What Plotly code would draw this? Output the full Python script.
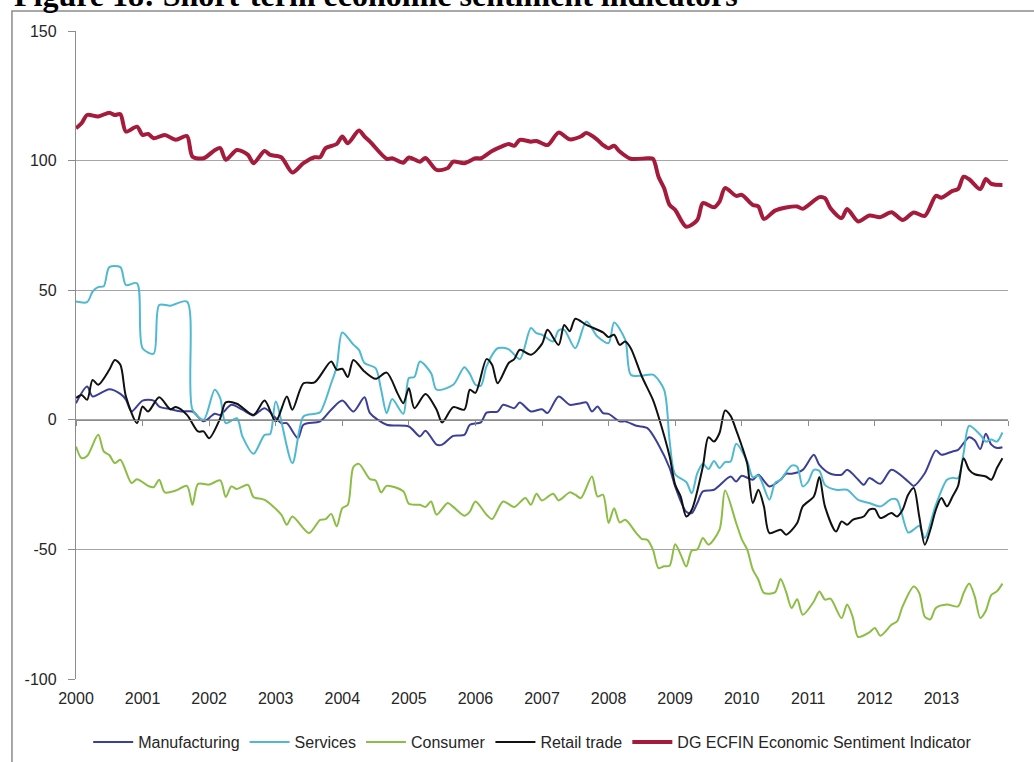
import plotly.graph_objects as go

# months since Jan 2000 and readings for each indicator
esi_m = [0, 1, 2, 4, 6, 7, 8, 9, 11, 12, 13, 14, 16, 18, 20, 21, 23, 25, 26, 27, 29, 31, 32, 34, 35, 37, 39, 41,
         43, 44, 45, 47, 48, 49, 51, 52, 53, 56, 57, 59, 60, 62, 63, 65, 67, 68, 70, 72, 73, 75, 77, 78, 79, 80,
         82, 83, 85, 87, 89, 91, 92, 94, 95, 96, 97, 98, 100, 103, 104, 105, 106, 107, 108, 110, 112, 113, 115,
         116, 117, 119, 120, 122, 123, 124, 126, 128, 130, 131, 134, 135, 136, 138, 139, 141, 143, 145, 147, 149,
         151, 153, 155, 156, 158, 159, 160, 161, 163, 164, 165, 167]
esi = [112.5, 114.4, 117.6, 117.0, 118.5, 117.6, 117.9, 111.2, 113.1, 109.9, 110.3, 108.6, 109.9, 108.0, 109.5,
       101.5, 100.9, 104.0, 104.8, 100.3, 104.1, 102.2, 99.0, 103.7, 102.2, 101.3, 95.4, 99.0, 101.3, 101.3, 104.8,
       106.4, 109.3, 106.7, 111.6, 109.3, 107.3, 100.7, 100.9, 99.2, 101.2, 99.6, 101.0, 96.4, 97.1, 99.6, 99.0,
       100.9, 100.9, 103.7, 105.7, 106.4, 105.7, 108.0, 107.3, 107.6, 106.0, 110.8, 108.2, 109.3, 110.6, 108.0,
       106.0, 104.8, 105.7, 103.5, 100.7, 100.9, 100.7, 93.8, 89.4, 82.9, 81.0, 74.5, 77.1, 83.6, 82.0, 84.2, 89.4,
       86.4, 86.8, 82.9, 82.3, 77.5, 80.7, 81.9, 82.3, 81.4, 85.9, 85.5, 81.6, 77.8, 81.3, 76.5, 78.8, 78.2, 80.1,
       77.1, 80.0, 78.7, 86.4, 85.7, 88.3, 89.0, 93.8, 92.8, 89.0, 92.9, 91.0, 90.6]

services_m = [0, 2, 3, 4, 5, 6, 8, 9, 11, 12, 14, 15, 17, 20, 21, 23, 25, 26, 27, 29, 30, 32, 34, 35, 36, 39, 41,
              43, 44, 46, 47, 48, 50, 51, 52, 54, 55, 56, 57, 59, 60, 61, 62, 64, 65, 68, 70, 71, 72, 73, 74, 76,
              78, 80, 82, 83, 84, 86, 87, 88, 90, 92, 94, 96, 97, 99, 100, 102, 104, 106, 107, 108, 110, 111, 112,
              113, 114, 115, 116, 117, 118, 119, 121, 122, 123, 125, 126, 127, 129, 130, 131, 132, 133, 134, 135,
              137, 139, 141, 143, 145, 147, 148, 150, 151, 152, 153, 155, 157, 158, 159, 160, 161, 163, 164, 165,
              166, 167]
services = [45.6, 45.4, 49.5, 51.2, 51.5, 58.9, 58.9, 52.0, 52.7, 27.6, 25.5, 44.3, 44.0, 45.6, 3.9, 0.0, 11.6,
            8.4, -1.3, 0.6, -6.4, -13.1, -5.8, -5.5, 7.1, -16.7, 1.3, 2.3, 2.9, 14.1, 20.6, 33.7, 29.0, 27.0, 21.9,
            19.9, 11.6, 2.6, 8.0, 2.3, 16.1, 16.5, 22.5, 18.0, 11.6, 13.5, 20.3, 17.7, 13.5, 13.2, 20.6, 27.6, 27.2,
            23.4, 35.4, 33.4, 32.8, 30.2, 34.5, 34.7, 27.6, 37.9, 32.1, 29.6, 37.5, 30.9, 17.4, 17.0, 17.4, 11.6,
            -8.0, -21.0, -24.0, -28.3, -20.6, -17.0, -19.0, -15.9, -18.6, -16.3, -16.1, -9.2, -16.1, -22.2, -21.5,
            -30.8, -24.4, -23.1, -17.7, -18.1, -25.7, -23.8, -19.3, -19.7, -25.1, -27.0, -27.0, -30.9, -32.1, -33.4,
            -30.6, -30.9, -43.5, -42.4, -40.9, -45.6, -32.8, -23.1, -22.4, -22.5, -12.8, -2.3, -5.8, -8.4, -7.6,
            -8.4, -4.9]

manufacturing_m = [0, 2, 3, 6, 8, 9, 10, 12, 14, 15, 17, 19, 21, 23, 25, 26, 28, 30, 32, 34, 37, 38, 40, 41, 44,
                   46, 48, 50, 52, 53, 56, 60, 62, 63, 65, 66, 68, 70, 71, 73, 74, 76, 77, 79, 80, 82, 84, 85, 87,
                   89, 91, 92, 93, 94, 95, 96, 98, 99, 101, 103, 105, 107, 108, 110, 111, 112, 113, 115, 118, 119,
                   120, 122, 123, 125, 127, 128, 129, 131, 133, 134, 136, 138, 139, 141, 142, 143, 145, 147, 150,
                   151, 153, 155, 156, 158, 159, 161, 162, 163, 164, 165, 166, 167]
manufacturing = [6.4, 12.8, 9.0, 11.8, 10.0, 7.8, 3.2, 7.4, 7.4, 5.1, 4.1, 3.2, 3.2, -0.6, 2.3, 1.9, 5.8, 3.9, 1.7,
                 4.5, -1.3, -1.3, -7.1, -1.9, -0.6, 3.9, 7.4, 3.2, 8.7, 2.6, -1.9, -2.6, -6.4, -4.2, -9.6, -9.6,
                 -6.2, -5.8, -1.9, -1.0, 2.8, 3.2, 5.8, 4.5, 6.7, 3.2, 4.1, 2.6, 9.0, 5.8, 6.4, 6.7, 3.2, 5.1, 2.6,
                 2.3, -0.6, -0.6, -2.3, -3.2, -9.6, -18.6, -25.7, -35.5, -36.0, -32.1, -27.6, -27.0, -21.9, -23.8,
                 -21.6, -23.1, -21.2, -25.7, -23.1, -20.8, -20.8, -19.3, -13.5, -17.4, -20.8, -21.2, -19.3, -23.1,
                 -25.1, -22.5, -24.7, -19.3, -23.8, -25.5, -20.6, -11.8, -13.5, -12.2, -11.6, -6.7, -7.9, -11.3,
                 -5.4, -9.6, -10.9, -10.6]

consumer_m = [0, 1, 2, 4, 5, 6, 7, 8, 10, 11, 13, 14, 15, 16, 18, 20, 21, 22, 24, 26, 27, 28, 29, 31, 32, 34, 37,
              38, 39, 42, 44, 45, 46, 47, 48, 49, 50, 51, 53, 54, 55, 56, 59, 60, 62, 63, 64, 65, 67, 68, 70, 71,
              72, 74, 75, 77, 79, 81, 82, 83, 84, 86, 87, 89, 90, 91, 93, 94, 95, 96, 97, 98, 99, 101, 102, 103,
              104, 105, 106, 107, 108, 109, 110, 111, 112, 113, 114, 116, 117, 119, 120, 121, 122, 123, 124, 126,
              127, 128, 129, 130, 131, 133, 134, 135, 136, 138, 139, 140, 141, 143, 144, 145, 147, 148, 149, 151,
              152, 153, 154, 155, 157, 159, 160, 161, 162, 163, 164, 165, 166, 167]
consumer = [-10.3, -14.8, -14.0, -5.8, -12.2, -13.6, -16.7, -15.4, -24.4, -22.9, -25.5, -26.0, -23.1, -28.0,
            -27.3, -25.5, -32.8, -24.7, -25.0, -23.4, -29.8, -25.7, -26.7, -25.1, -29.8, -30.9, -36.6, -40.5, -37.3,
            -43.7, -38.6, -38.3, -36.3, -41.1, -34.1, -32.8, -18.2, -17.0, -22.9, -23.4, -28.0, -25.5, -27.6, -32.4,
            -32.8, -33.6, -31.5, -36.6, -32.1, -33.6, -37.0, -35.4, -31.5, -36.6, -38.3, -31.5, -33.6, -30.2, -32.8,
            -28.5, -31.1, -28.5, -31.1, -28.0, -28.9, -30.2, -21.9, -29.6, -28.9, -39.8, -34.1, -39.6, -38.6, -43.7,
            -46.0, -46.3, -50.1, -57.2, -56.5, -56.3, -48.0, -52.0, -56.6, -50.4, -50.0, -45.6, -48.2, -42.4, -27.3,
            -39.8, -46.0, -50.1, -57.8, -61.7, -66.8, -66.6, -61.4, -66.4, -72.6, -69.2, -75.2, -70.1, -66.2, -69.4,
            -69.0, -76.5, -71.3, -76.0, -83.8, -82.0, -80.3, -83.3, -79.1, -77.8, -72.0, -64.3, -66.8, -75.9, -77.0,
            -72.6, -71.3, -72.0, -66.8, -63.2, -68.1, -76.5, -73.7, -67.5, -66.2, -63.2]

retail_m = [0, 1, 2, 3, 4, 6, 7, 8, 9, 11, 12, 13, 15, 17, 18, 20, 22, 23, 24, 26, 27, 29, 32, 34, 36, 38, 39, 41,
            43, 46, 47, 48, 49, 50, 52, 54, 56, 58, 59, 60, 61, 63, 65, 66, 68, 70, 71, 72, 74, 75, 76, 78, 79, 80,
            82, 84, 85, 87, 88, 89, 90, 92, 95, 96, 97, 98, 99, 100, 102, 104, 105, 107, 108, 109, 110, 111, 113,
            114, 115, 116, 117, 118, 119, 120, 121, 122, 123, 124, 125, 127, 128, 130, 131, 133, 134, 135, 137,
            138, 139, 140, 142, 143, 144, 145, 147, 148, 149, 150, 151, 152, 153, 154, 155, 156, 157, 158, 159,
            160, 161, 162, 164, 165, 166, 167]
retail = [8.4, 9.6, 7.7, 15.4, 13.5, 19.3, 23.1, 21.2, 9.0, -1.3, 5.1, 3.2, 8.7, 4.1, 4.9, 1.9, -4.5, -4.5, -7.1,
          0.6, 6.7, 6.2, 1.9, 7.4, -0.6, 9.0, 3.9, 14.1, 14.4, 22.5, 19.3, 19.7, 16.5, 23.1, 18.6, 15.8, 18.2, 10.0,
          6.4, 12.2, 4.5, 10.0, 3.9, -1.0, 4.9, 3.9, 11.6, 10.4, 23.4, 21.2, 14.1, 21.9, 23.4, 27.0, 25.1, 29.3,
          34.7, 28.9, 36.6, 34.2, 39.0, 36.6, 33.7, 31.9, 32.8, 28.9, 30.2, 27.6, 16.7, 7.7, 1.3, -14.1, -25.0,
          -29.6, -37.3, -34.7, -18.0, -6.7, -8.4, -5.1, 3.6, 1.5, -4.0, -10.0, -17.0, -32.1, -27.0, -33.4, -43.7,
          -42.4, -44.3, -39.8, -33.4, -29.6, -22.1, -33.4, -43.1, -39.2, -40.5, -38.6, -37.3, -34.7, -34.5, -37.9,
          -36.0, -37.3, -34.7, -28.9, -26.3, -37.3, -48.2, -42.4, -34.7, -30.2, -33.4, -29.6, -25.5, -14.8, -19.3,
          -21.0, -21.9, -23.1, -18.6, -14.8]

years = list(range(2000, 2014))
y_ticks = [150, 100, 50, 0, -50, -100]

FONT = "Liberation Sans, Arial, sans-serif"
GRID = "#a6a6a6"
AXIS = "#8c8c8c"


def to_year(months):
    return [2000 + m / 12 for m in months]


series = [
    ("Manufacturing", manufacturing_m, manufacturing, "#3b3f98", 2),
    ("Services", services_m, services, "#4fb9d2", 2),
    ("Consumer", consumer_m, consumer, "#8cbd45", 2),
    ("Retail trade", retail_m, retail, "#111111", 2),
    ("DG ECFIN Economic Sentiment Indicator", esi_m, esi, "#a51b3b", 4),
]

fig = go.Figure()
for name, months, values, color, width in series:
    fig.add_trace(
        go.Scatter(
            x=to_year(months),
            y=values,
            mode="lines",
            name=name,
            line=dict(color=color, width=width, shape="spline", smoothing=0.8),
        )
    )

# helper trace so the zero-line axis with year ticks gets drawn
fig.add_trace(
    go.Scatter(x=[2000, 2014], y=[None, None], xaxis="x2", showlegend=False, hoverinfo="skip")
)

fig.update_layout(
    width=1034,
    height=762,
    margin=dict(l=76, r=26, t=31, b=83, autoexpand=False),
    paper_bgcolor="white",
    plot_bgcolor="white",
    font=dict(family=FONT, size=16, color="#262626"),
    showlegend=True,
    legend=dict(
        orientation="h",
        x=0.49,
        xanchor="center",
        yref="container",
        y=0.026,
        yanchor="middle",
        font=dict(size=16, color="#262626"),
        itemwidth=40,
    ),
    xaxis=dict(
        range=[2000, 2014],
        tickvals=years,
        ticktext=[str(y) for y in years],
        ticks="",
        showgrid=False,
        zeroline=False,
        showline=False,
        automargin=False,
        ticklabelstandoff=8,
    ),
    xaxis2=dict(
        range=[2000, 2014],
        overlaying="x",
        anchor="free",
        position=0.4,
        tickvals=years + [2014],
        showticklabels=False,
        ticks="outside",
        ticklen=5,
        tickcolor=AXIS,
        showline=True,
        linecolor=AXIS,
        linewidth=1.3,
        showgrid=False,
        zeroline=False,
        automargin=False,
    ),
    yaxis=dict(
        range=[-100, 150],
        tickvals=y_ticks,
        ticktext=[str(v) for v in y_ticks],
        ticks="outside",
        ticklen=7,
        tickcolor=AXIS,
        showgrid=True,
        gridcolor=GRID,
        gridwidth=1.3,
        zeroline=False,
        showline=True,
        linecolor=AXIS,
        linewidth=1.3,
        automargin=False,
        ticklabelstandoff=8,
    ),
)

# chart frame and the cut-off figure title above it
fig.add_shape(
    type="path",
    xref="paper",
    yref="paper",
    path="M -0.0687,-0.2 L -0.0687,1.0309 L 1.2,1.0309",
    line=dict(color=AXIS, width=1.5),
)
fig.add_annotation(
    xref="paper",
    yref="paper",
    x=-0.0687,
    y=1.0247,
    xanchor="left",
    yanchor="bottom",
    text="<b>Figure 18: Short-term economic sentiment indicators</b>",
    showarrow=False,
    font=dict(family="Liberation Serif, Times New Roman, serif", size=32, color="black"),
)

# the page's default body margin would shift the figure by 8px
fig.write_html(
    "out.html",
    config={"displayModeBar": False},
    post_script="document.body.style.margin = '0';",
)
